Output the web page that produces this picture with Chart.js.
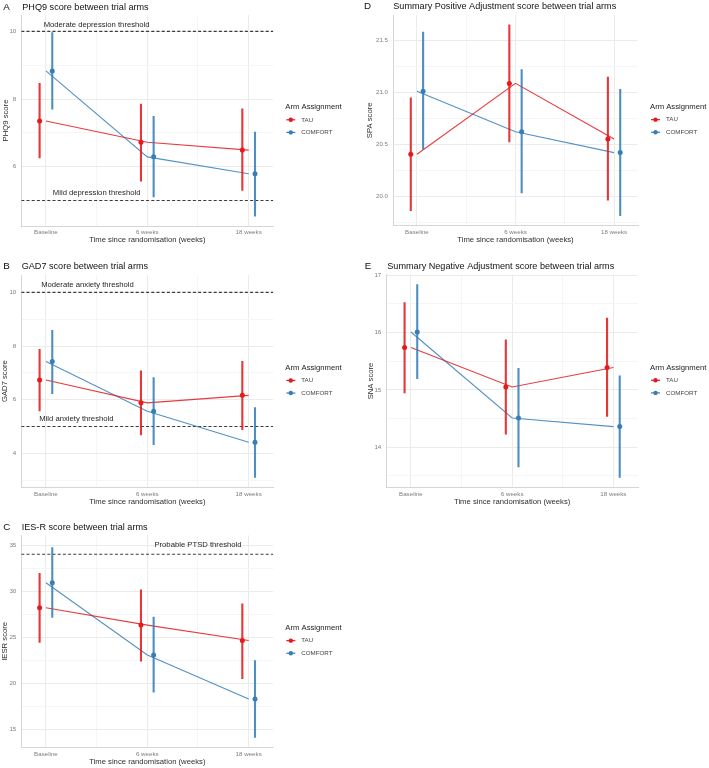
<!DOCTYPE html>
<html><head><meta charset="utf-8">
<script src="https://cdn.jsdelivr.net/npm/chart.js@4.4.1/dist/chart.umd.min.js"></script>
<style>
html,body{margin:0;padding:0;background:#fff;}
#wrap{position:relative;width:709px;height:768px;overflow:hidden;background:#fff;}
#wrap canvas{position:absolute;}
</style></head>
<body><div id="wrap"></div>
<script>
// ---------------- data ----------------
const categories = ['Baseline', '6 weeks', '18 weeks'];
const categoryX = [1, 2, 3];
const seriesNames = ['TAU', 'COMFORT'];
const legendTitle = 'Arm Assignment';
const xAxisTitle = 'Time since randomisation (weeks)';

// A: PHQ9
const phq9TauEst = [7.35, 6.72, 6.49];
const phq9TauLo  = [6.25, 5.56, 5.29];
const phq9TauHi  = [8.47, 7.86, 7.72];
const phq9ComEst = [8.83, 6.29, 5.79];
const phq9ComLo  = [7.69, 5.10, 4.53];
const phq9ComHi  = [9.97, 7.50, 7.03];
const phq9YMajor = [6, 8, 10];
const phq9YMinor = [5, 7, 9];
const phq9Thresholds = [10, 5];
const phq9ThresholdLabels = ['Moderate depression threshold', 'Mild depression threshold'];
const phq9LabelX = [1.5, 1.5];
const phq9LabelY = [10.2, 5.22];

// B: GAD7
const gad7TauEst = [6.73, 5.88, 6.16];
const gad7TauLo  = [5.57, 4.67, 4.87];
const gad7TauHi  = [7.89, 7.09, 7.44];
const gad7ComEst = [7.42, 5.57, 4.41];
const gad7ComLo  = [6.21, 4.31, 3.09];
const gad7ComHi  = [8.60, 6.84, 5.72];
const gad7YMajor = [4, 6, 8, 10];
const gad7YMinor = [3, 5, 7, 9];
const gad7Thresholds = [10, 5];
const gad7ThresholdLabels = ['Moderate anxiety threshold', 'Mild anxiety threshold'];
const gad7LabelX = [1.41, 1.30];
const gad7LabelY = [10.29, 5.30];

// C: IES-R
const iesrTauEst = [28.18, 26.30, 24.63];
const iesrTauLo  = [24.37, 22.34, 20.45];
const iesrTauHi  = [31.95, 30.18, 28.66];
const iesrComEst = [30.90, 23.06, 18.28];
const iesrComLo  = [27.09, 18.97, 14.07];
const iesrComHi  = [34.75, 27.20, 22.49];
const iesrYMajor = [15, 20, 25, 30, 35];
const iesrYMinor = [17.5, 22.5, 27.5, 32.5];
const iesrThresholds = [34];
const iesrThresholdLabels = ['Probable PTSD threshold'];
const iesrLabelX = [2.5];
const iesrLabelY = [35];

// D: SPA
const spaTauEst = [20.405, 21.085, 20.55];
const spaTauLo  = [19.86, 20.52, 19.96];
const spaTauHi  = [20.95, 21.65, 21.15];
const spaComEst = [21.01, 20.62, 20.42];
const spaComLo  = [20.45, 20.03, 19.81];
const spaComHi  = [21.58, 21.22, 21.03];
const spaYMajor = [20.0, 20.5, 21.0, 21.5];
const spaYMinor = [19.75, 20.25, 20.75, 21.25];

// E: SNA
const snaTauEst = [15.74, 15.05, 15.39];
const snaTauLo  = [14.94, 14.22, 14.53];
const snaTauHi  = [16.53, 15.88, 16.26];
const snaComEst = [16.01, 14.51, 14.36];
const snaComLo  = [15.19, 13.65, 13.47];
const snaComHi  = [16.84, 15.38, 15.25];
const snaYMajor = [14, 15, 16, 17];
const snaYMinor = [13.5, 14.5, 15.5, 16.5];

// ---------------- style ----------------
const FONT = '"Liberation Sans", Arial, Helvetica, sans-serif';
const COLORS = ['#E41A1C', '#377EB8'];
const DODGE = 0.0625;
const X_PAD = 0.243;
const X_MINOR = [1.5, 2.5];
Chart.defaults.font.family = FONT;

function alpha(hex, a) {
  const n = parseInt(hex.slice(1), 16);
  return `rgba(${n >> 16},${(n >> 8) & 255},${n & 255},${a})`;
}

const panels = [
  { letter: 'A', title: 'PHQ9 score between trial arms', yTitle: 'PHQ9 score', decimals: 0,
    series: [{est: phq9TauEst, lo: phq9TauLo, hi: phq9TauHi}, {est: phq9ComEst, lo: phq9ComLo, hi: phq9ComHi}],
    yMajor: phq9YMajor, yMinor: phq9YMinor,
    thresholds: phq9Thresholds, labels: phq9ThresholdLabels, labelX: phq9LabelX, labelY: phq9LabelY,
    cv: {x: 0, y: 0, w: 354, h: 250}, area: {l: 21.3, r: 273.3, t: 15, b: 226},
    head: {letterX: 3.3, titleX: 22.3, base: 10}, yTitleX: 5.5 },
  { letter: 'B', title: 'GAD7 score between trial arms', yTitle: 'GAD7 score', decimals: 0,
    series: [{est: gad7TauEst, lo: gad7TauLo, hi: gad7TauHi}, {est: gad7ComEst, lo: gad7ComLo, hi: gad7ComHi}],
    yMajor: gad7YMajor, yMinor: gad7YMinor,
    thresholds: gad7Thresholds, labels: gad7ThresholdLabels, labelX: gad7LabelX, labelY: gad7LabelY,
    cv: {x: 0, y: 245, w: 354, h: 262}, area: {l: 21.3, r: 273.3, t: 30, b: 242.3},
    head: {letterX: 3.3, titleX: 21.7, base: 24.3}, yTitleX: 5 },
  { letter: 'C', title: 'IES-R score between trial arms', yTitle: 'IESR score', decimals: 0,
    series: [{est: iesrTauEst, lo: iesrTauLo, hi: iesrTauHi}, {est: iesrComEst, lo: iesrComLo, hi: iesrComHi}],
    yMajor: iesrYMajor, yMinor: iesrYMinor,
    thresholds: iesrThresholds, labels: iesrThresholdLabels, labelX: iesrLabelX, labelY: iesrLabelY,
    cv: {x: 0, y: 500, w: 354, h: 268}, area: {l: 21.3, r: 273.3, t: 35.4, b: 247.3},
    head: {letterX: 3.3, titleX: 21.7, base: 30}, yTitleX: 5 },
  { letter: 'D', title: 'Summary Positive Adjustment score between trial arms', yTitle: 'SPA score', decimals: 1,
    series: [{est: spaTauEst, lo: spaTauLo, hi: spaTauHi}, {est: spaComEst, lo: spaComLo, hi: spaComHi}],
    yMajor: spaYMajor, yMinor: spaYMinor,
    thresholds: [], labels: [], labelX: [], labelY: [],
    cv: {x: 354, y: 0, w: 355, h: 250}, area: {l: 39, r: 284, t: 15, b: 225.7},
    head: {letterX: 10, titleX: 39.3, base: 9.3}, yTitleX: 16.3 },
  { letter: 'E', title: 'Summary Negative Adjustment score between trial arms', yTitle: 'SNA score', decimals: 0,
    series: [{est: snaTauEst, lo: snaTauLo, hi: snaTauHi}, {est: snaComEst, lo: snaComLo, hi: snaComHi}],
    yMajor: snaYMajor, yMinor: snaYMinor,
    thresholds: [], labels: [], labelX: [], labelY: [],
    cv: {x: 354, y: 245, w: 355, h: 262}, area: {l: 32.3, r: 284, t: 29.7, b: 242.3},
    head: {letterX: 10.7, titleX: 33.3, base: 24.3}, yTitleX: 17 }
];

function makeTextPlugin(p) {
  return {
    id: 'panelText' + p.letter,
    afterDatasetsDraw(chart) {
      const {ctx, scales: {x, y}} = chart;
      ctx.save();
      ctx.font = `7.7px ${FONT}`;
      ctx.fillStyle = '#262626';
      ctx.textAlign = 'center';
      ctx.textBaseline = 'middle';
      p.labels.forEach((t, i) => {
        ctx.fillText(t, x.getPixelForValue(p.labelX[i]), y.getPixelForValue(p.labelY[i]));
      });
      ctx.restore();
    },
    afterDraw(chart) {
      const {ctx, chartArea: ca} = chart;
      ctx.save();
      // panel letter and title
      ctx.textBaseline = 'alphabetic';
      ctx.textAlign = 'left';
      ctx.fillStyle = '#111';
      ctx.font = `9.8px ${FONT}`;
      ctx.fillText(p.letter, p.head.letterX, p.head.base);
      ctx.font = `9.1px ${FONT}`;
      ctx.fillText(p.title, p.head.titleX, p.head.base);
      // legend
      const cy = (ca.top + ca.bottom) / 2;
      const lx = ca.right;
      ctx.textBaseline = 'middle';
      ctx.font = `7.7px ${FONT}`;
      ctx.fillStyle = '#222';
      ctx.fillText(legendTitle, lx + 12, cy - 13.5);
      seriesNames.forEach((n, k) => {
        const yy = cy - 0.7 + k * 12.6;
        ctx.strokeStyle = COLORS[k];
        ctx.lineWidth = 1.2;
        ctx.beginPath();
        ctx.moveTo(lx + 13, yy);
        ctx.lineTo(lx + 22, yy);
        ctx.stroke();
        ctx.fillStyle = COLORS[k];
        ctx.beginPath();
        ctx.arc(lx + 17.5, yy, 2.2, 0, Math.PI * 2);
        ctx.fill();
        ctx.fillStyle = '#444';
        ctx.font = `6.2px ${FONT}`;
        ctx.fillText(n, lx + 28, yy);
      });
      ctx.restore();
    }
  };
}

panels.forEach(p => {
  const c = document.createElement('canvas');
  c.width = p.cv.w; c.height = p.cv.h;
  c.style.left = p.cv.x + 'px'; c.style.top = p.cv.y + 'px';
  c.style.width = p.cv.w + 'px'; c.style.height = p.cv.h + 'px';
  document.getElementById('wrap').appendChild(c);

  // y range as in ggplot: data range expanded by 5%
  const vals = [];
  p.series.forEach(s => vals.push(...s.lo, ...s.hi, ...s.est));
  vals.push(...p.thresholds, ...p.labelY);
  const vMin = Math.min(...vals), vMax = Math.max(...vals), span = vMax - vMin;
  const yMin = vMin - 0.05 * span, yMax = vMax + 0.05 * span;
  const xMin = 1 - X_PAD, xMax = 3 + X_PAD;

  const datasets = [];
  p.series.forEach((s, k) => {
    const off = k === 0 ? -DODGE : DODGE;
    // points
    datasets.push({
      data: categoryX.map((x, i) => ({x: x + off, y: s.est[i]})),
      showLine: false, pointRadius: 2.5, pointHoverRadius: 2.5,
      pointBackgroundColor: COLORS[k], pointBorderWidth: 0, borderColor: COLORS[k], order: 0
    });
    // error bars
    const eb = [];
    categoryX.forEach((x, i) => {
      eb.push({x: x + off, y: s.lo[i]}, {x: x + off, y: s.hi[i]}, {x: x + off, y: null});
    });
    datasets.push({
      data: eb, showLine: true, spanGaps: false, pointRadius: 0,
      borderColor: alpha(COLORS[k], 0.88), borderWidth: 2.1, borderCapStyle: 'butt', order: 1
    });
    // connecting line at category centres
    datasets.push({
      data: categoryX.map((x, i) => ({x: x, y: s.est[i]})),
      showLine: true, pointRadius: 0, tension: 0,
      borderColor: alpha(COLORS[k], 0.85), borderWidth: 1.1, order: 2
    });
  });
  p.thresholds.forEach(t => {
    datasets.push({
      data: [{x: xMin, y: t}, {x: xMax, y: t}],
      showLine: true, pointRadius: 0, borderColor: '#3a3a3a', borderWidth: 1.1,
      borderDash: [3, 2.2], order: 3
    });
  });

  const xTicks = [...categoryX, ...X_MINOR].sort((a, b) => a - b);
  const yTicks = [...p.yMajor, ...p.yMinor].filter(v => v >= yMin && v <= yMax).sort((a, b) => a - b);

  new Chart(c, {
    type: 'line',
    data: {datasets},
    plugins: [makeTextPlugin(p)],
    options: {
      responsive: false, animation: false, devicePixelRatio: 1, events: [],
      layout: {padding: {left: 0, top: p.area.t, right: p.cv.w - p.area.r, bottom: 0}},
      plugins: {legend: {display: false}, tooltip: {enabled: false}, title: {display: false}},
      scales: {
        x: {
          type: 'linear', min: xMin, max: xMax, bounds: 'data',
          afterBuildTicks: s => { s.ticks = xTicks.map(v => ({value: v})); },
          afterFit: s => { s.height = p.cv.h - p.area.b; },
          ticks: {
            autoSkip: false, maxRotation: 0, minRotation: 0, padding: 3, color: '#7d7d7d',
            font: {size: 6.2, family: FONT},
            callback: v => { const i = categoryX.indexOf(v); return i >= 0 ? categories[i] : ''; }
          },
          grid: {
            drawTicks: false, lineWidth: 1,
            color: ctx => (ctx.tick && categoryX.includes(ctx.tick.value)) ? '#ebebeb' : '#f5f5f5'
          },
          border: {display: true, color: '#d6d6d6', width: 1},
          title: {
            display: true, text: xAxisTitle, color: '#2e2e2e', font: {size: 7.7, family: FONT},
            padding: {top: 0, bottom: p.cv.h - (p.area.b + 14.3) - 4.6}
          }
        },
        y: {
          type: 'linear', min: yMin, max: yMax, bounds: 'data',
          afterBuildTicks: s => { s.ticks = yTicks.map(v => ({value: v})); },
          afterFit: s => { s.width = p.area.l; },
          ticks: {
            autoSkip: false, padding: 5, color: '#7d7d7d', font: {size: 6.2, family: FONT},
            callback: v => p.yMajor.includes(v) ? v.toFixed(p.decimals) : ''
          },
          grid: {
            drawTicks: false, lineWidth: 1,
            color: ctx => (ctx.tick && p.yMajor.includes(ctx.tick.value)) ? '#ebebeb' : '#f5f5f5'
          },
          border: {display: true, color: '#d6d6d6', width: 1},
          title: {
            display: true, text: p.yTitle, color: '#2e2e2e', font: {size: 7.7, family: FONT},
            padding: {top: p.yTitleX - 4.6, bottom: 0}
          }
        }
      }
    }
  });
});
</script>
</body></html>
